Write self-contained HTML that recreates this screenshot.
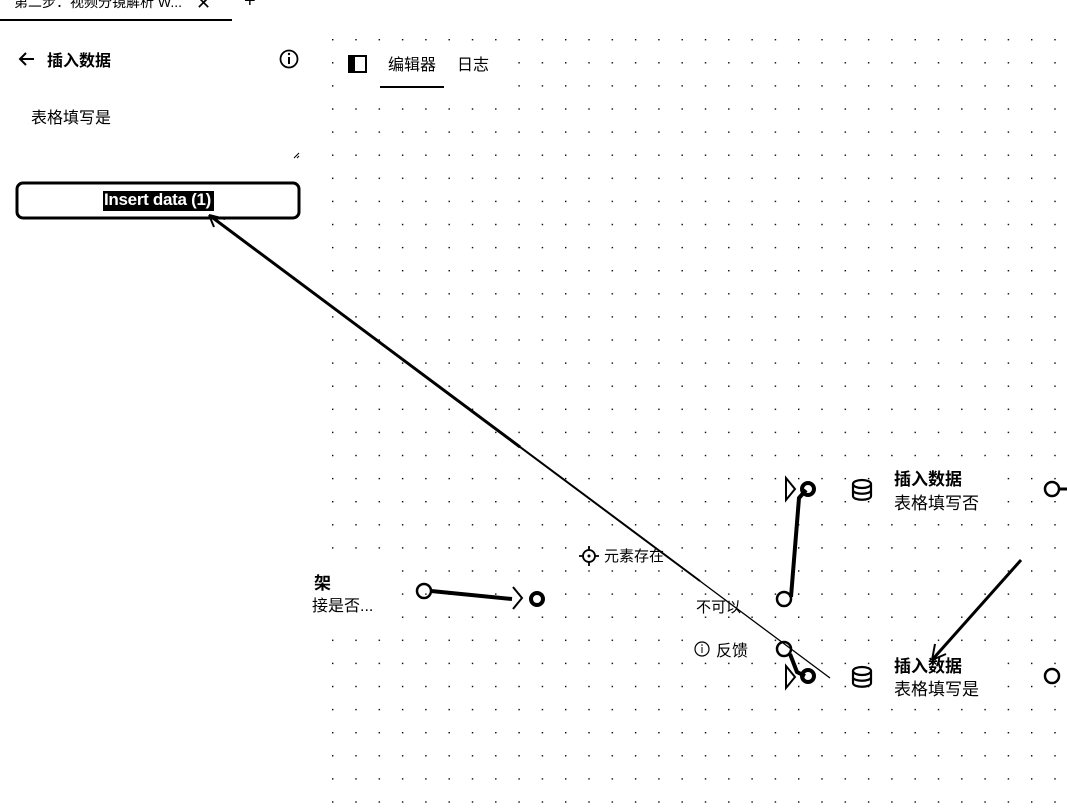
<!DOCTYPE html>
<html><head><meta charset="utf-8"><style>
body{margin:0;width:1067px;height:808px;overflow:hidden;background:#fff;font-family:"Liberation Sans","Noto Sans CJK SC",sans-serif;color:#000;position:relative}
.t{position:absolute;white-space:nowrap}
</style></head><body>
<svg width="1067" height="808" style="position:absolute;left:0;top:0">
<defs><pattern id="d" x="332" y="39" width="23.3" height="23.1" patternUnits="userSpaceOnUse"><rect x="0" y="0" width="1.4" height="1.4" fill="#000"/></pattern></defs>
<rect x="330" y="36" width="737" height="772" fill="url(#d)"/>
<rect x="340" y="45" width="160" height="50" fill="#fff"/>
<rect x="310" y="568" width="90" height="50" fill="#fff"/>
<rect x="890" y="464" width="110" height="50" fill="#fff"/>
<rect x="890" y="650" width="110" height="50" fill="#fff"/>
<rect x="690" y="636" width="70" height="26" fill="#fff"/>
<rect x="600" y="544" width="70" height="24" fill="#fff"/>
<line x1="0" y1="20" x2="232" y2="20" stroke="#000" stroke-width="2"/>
<line x1="380" y1="87" x2="444" y2="87" stroke="#000" stroke-width="2"/>
<rect x="349" y="56" width="17" height="16" fill="none" stroke="#000" stroke-width="2"/>
<rect x="349" y="56" width="6" height="16" fill="#000"/>
<path d="M34 59H20M26 53l-6 6 6 6" fill="none" stroke="#000" stroke-width="2"/>
<circle cx="289" cy="59" r="8.5" fill="none" stroke="#000" stroke-width="1.8"/>
<line x1="289" y1="57" x2="289" y2="64" stroke="#000" stroke-width="2"/><circle cx="289" cy="54" r="1.2"/>
<path d="M294 158l5-5M297 158l2-2" stroke="#000"/>
<rect x="17" y="183" width="282" height="35" rx="6" fill="none" stroke="#000" stroke-width="3"/>
<rect x="103" y="191" width="111" height="20" fill="#000"/>
<path d="M213 218 L830 678" stroke="#000" stroke-width="1.3" fill="none"/>
<path d="M213 218 L520 447" stroke="#000" stroke-width="3" fill="none"/>
<path d="M500 432 L700 581" stroke="#000" stroke-width="2" fill="none"/>
<path d="M209 215l16 4M209 215l5 12" stroke="#000" stroke-width="2" fill="none"/>
<circle cx="424" cy="591" r="7" fill="none" stroke="#000" stroke-width="2.5"/>
<path d="M431 591 L512 599" stroke="#000" stroke-width="4"/>
<path d="M513 587l9 11-9 11" fill="none" stroke="#000" stroke-width="2"/>
<circle cx="537" cy="599" r="6" fill="none" stroke="#000" stroke-width="4"/>
<circle cx="784" cy="599" r="7" fill="none" stroke="#000" stroke-width="2.5"/>
<path d="M791 597 L799 498 L806 490" stroke="#000" stroke-width="4" fill="none"/>
<path d="M786 478l9 11-9 11z" fill="none" stroke="#000" stroke-width="2"/>
<circle cx="808" cy="489" r="6" fill="none" stroke="#000" stroke-width="4"/>
<circle cx="784" cy="649" r="7" fill="none" stroke="#000" stroke-width="2.5"/>
<path d="M790 654 L797 672 L805 676" stroke="#000" stroke-width="4" fill="none"/>
<path d="M786 666l9 11-9 11z" fill="none" stroke="#000" stroke-width="2"/>
<circle cx="808" cy="676" r="6" fill="none" stroke="#000" stroke-width="4"/>
<circle cx="1052" cy="489" r="7" fill="none" stroke="#000" stroke-width="2.5"/>
<line x1="1059" y1="489" x2="1067" y2="489" stroke="#000" stroke-width="3"/>
<circle cx="1052" cy="676" r="7" fill="none" stroke="#000" stroke-width="2.5"/>
<path d="M1021 560 L932 660" stroke="#000" stroke-width="3"/>
<path d="M932 660l3-16M932 660l14-6" stroke="#000" stroke-width="2"/>
<g fill="none" stroke="#000" stroke-width="2.2">
<ellipse cx="862" cy="484" rx="9" ry="4"/><path d="M853 484v12c0 5 18 5 18 0v-12M853 490c0 5 18 5 18 0"/>
<ellipse cx="862" cy="671" rx="9" ry="4"/><path d="M853 671v12c0 5 18 5 18 0v-12M853 677c0 5 18 5 18 0"/>
</g>
<circle cx="589" cy="556" r="6" fill="none" stroke="#000" stroke-width="1.8"/><circle cx="589" cy="556" r="1.5"/>
<path d="M589 546v4M589 562v4M579 556h4M595 556h4" stroke="#000" stroke-width="1.8"/>
<circle cx="702" cy="649" r="7" fill="none" stroke="#000" stroke-width="1.2"/>
<line x1="702" y1="647" x2="702" y2="653" stroke="#000"/><circle cx="702" cy="645" r=".8"/>
</svg>
<div class="t" style="left:14px;top:-8px;font-size:14px">第二步：视频分镜解析 W...</div>
<div class="t" style="left:196px;top:-7px;font-size:18px">✕</div>
<div class="t" style="left:244px;top:-10px;font-size:20px">+</div>
<div class="t" style="left:47px;top:47px;font-size:16px;font-weight:bold">插入数据</div>
<div class="t" style="left:31px;top:104px;font-size:16px">表格填写是</div>
<div class="t" style="left:104px;top:190px;font-size:17px;color:#fff;font-weight:bold;letter-spacing:-0.3px">Insert data (1)</div>
<div class="t" style="left:388px;top:51px;font-size:16px">编辑器</div>
<div class="t" style="left:457px;top:51px;font-size:16px">日志</div>
<div class="t" style="left:314px;top:569px;font-size:17px;font-weight:bold">架</div>
<div class="t" style="left:312px;top:592px;font-size:16px">接是否...</div>
<div class="t" style="left:604px;top:545px;font-size:15px">元素存在</div>
<div class="t" style="left:696px;top:596px;font-size:15px">不可以</div>
<div class="t" style="left:716px;top:637px;font-size:16px">反馈</div>
<div class="t" style="left:894px;top:465px;font-size:17px;font-weight:bold">插入数据</div>
<div class="t" style="left:894px;top:489px;font-size:17px">表格填写否</div>
<div class="t" style="left:894px;top:652px;font-size:17px;font-weight:bold">插入数据</div>
<div class="t" style="left:894px;top:675px;font-size:17px">表格填写是</div>
</body></html>
